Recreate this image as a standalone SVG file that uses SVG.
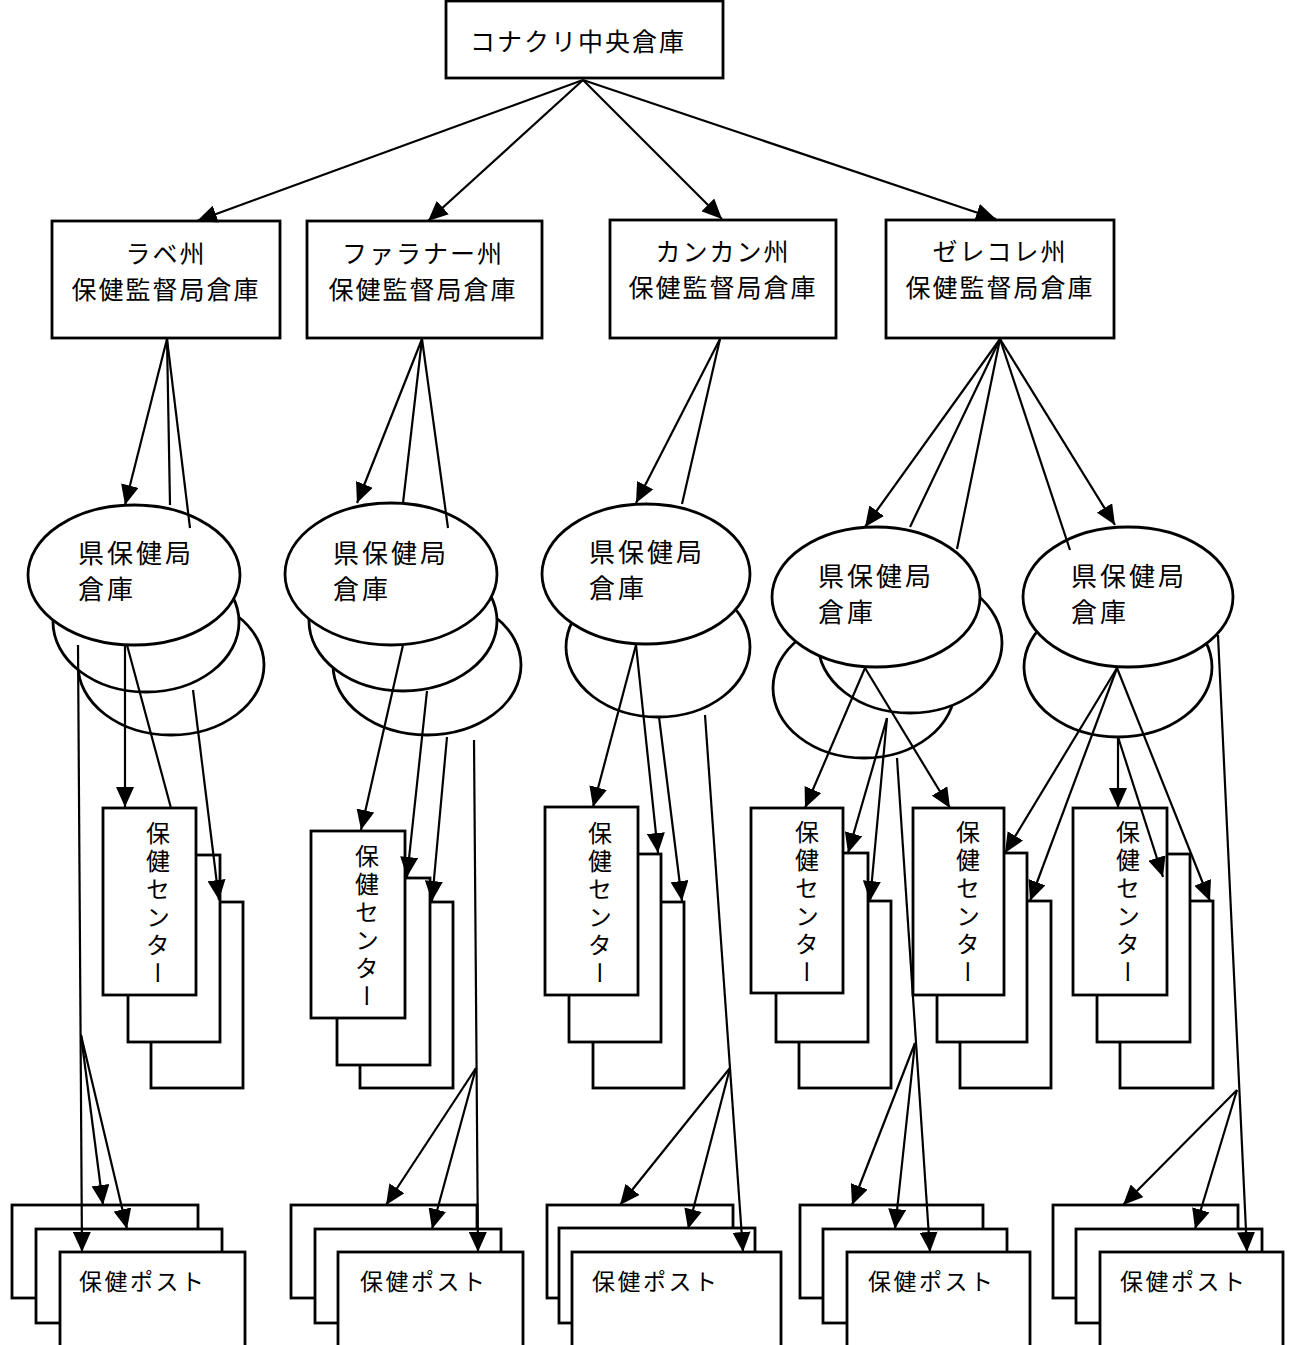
<svg xmlns="http://www.w3.org/2000/svg" width="1293" height="1345" viewBox="0 0 1293 1345">
<style>
.b{fill:#fff;stroke:#000;stroke-width:2.8}
.t{font-family:"Noto Sans CJK JP","Noto Sans CJK SC",sans-serif;fill:#000}
.t26{font-size:25px;letter-spacing:2px}
.te{font-size:26px;letter-spacing:3px}
.tv{font-size:24px;letter-spacing:4px;writing-mode:vertical-rl}
.tp{font-size:23px;letter-spacing:2.5px}
.c line{stroke:#000;stroke-width:2.2}
.a{marker-end:url(#ah)}
</style>
<defs>
<marker id="ah" viewBox="0 0 20 18" markerWidth="20" markerHeight="18" refX="20" refY="9" markerUnits="userSpaceOnUse" orient="auto">
<path d="M0,0 L20,9 L0,18 Z" fill="#000"/>
</marker>
</defs>
<rect width="1293" height="1345" fill="#fff"/>

<g id="central">
<rect class="b" x="446" y="1" width="277" height="77"/>
<text class="t t26" x="578" y="40" text-anchor="middle" dominant-baseline="central">コナクリ中央倉庫</text>
</g>

<g id="labe-region">
<rect class="b" x="52" y="221" width="228" height="117"/>
<text class="t t26" x="166" y="252" text-anchor="middle" dominant-baseline="central">ラベ州</text>
<text class="t t26" x="166" y="288" text-anchor="middle" dominant-baseline="central">保健監督局倉庫</text>
</g>
<g id="faranah-region">
<rect class="b" x="307" y="221" width="235" height="117"/>
<text class="t t26" x="423" y="252" text-anchor="middle" dominant-baseline="central">ファラナー州</text>
<text class="t t26" x="423" y="288" text-anchor="middle" dominant-baseline="central">保健監督局倉庫</text>
</g>
<g id="kankan-region">
<rect class="b" x="610" y="220" width="226" height="118"/>
<text class="t t26" x="723" y="250" text-anchor="middle" dominant-baseline="central">カンカン州</text>
<text class="t t26" x="723" y="286" text-anchor="middle" dominant-baseline="central">保健監督局倉庫</text>
</g>
<g id="nzerekore-region">
<rect class="b" x="886" y="220" width="228" height="118"/>
<text class="t t26" x="1000" y="250" text-anchor="middle" dominant-baseline="central">ゼレコレ州</text>
<text class="t t26" x="1000" y="286" text-anchor="middle" dominant-baseline="central">保健監督局倉庫</text>
</g>

<g id="labe-prefecture">
<ellipse class="b" cx="171" cy="665" rx="93" ry="70"/>
<ellipse class="b" cx="146" cy="622" rx="93" ry="70"/>
<ellipse class="b" cx="134" cy="575" rx="106" ry="70"/>
<text class="t te" x="78" y="551" dominant-baseline="central">県保健局</text>
<text class="t te" x="78" y="587" dominant-baseline="central">倉庫</text>
</g>
<g id="faranah-prefecture">
<ellipse class="b" cx="427" cy="665" rx="94" ry="70"/>
<ellipse class="b" cx="403" cy="621" rx="94" ry="70"/>
<ellipse class="b" cx="391" cy="574" rx="106" ry="71"/>
<text class="t te" x="333" y="551" dominant-baseline="central">県保健局</text>
<text class="t te" x="333" y="587" dominant-baseline="central">倉庫</text>
</g>
<g id="kankan-prefecture">
<ellipse class="b" cx="658" cy="647" rx="92" ry="70"/>
<ellipse class="b" cx="646" cy="574" rx="104" ry="70"/>
<text class="t te" x="589" y="550" dominant-baseline="central">県保健局</text>
<text class="t te" x="589" y="586" dominant-baseline="central">倉庫</text>
</g>
<g id="nzerekore-prefecture-a">
<ellipse class="b" cx="864" cy="688" rx="91" ry="70"/>
<ellipse class="b" cx="910" cy="643" rx="92" ry="70"/>
<ellipse class="b" cx="876" cy="597" rx="104" ry="70"/>
<text class="t te" x="818" y="574" dominant-baseline="central">県保健局</text>
<text class="t te" x="818" y="610" dominant-baseline="central">倉庫</text>
</g>
<g id="nzerekore-prefecture-b">
<ellipse class="b" cx="1118" cy="667" rx="94" ry="70"/>
<ellipse class="b" cx="1128" cy="597" rx="105" ry="70"/>
<text class="t te" x="1071" y="574" dominant-baseline="central">県保健局</text>
<text class="t te" x="1071" y="610" dominant-baseline="central">倉庫</text>
</g>

<g id="labe-centers">
<rect class="b" x="151" y="902" width="92" height="186"/>
<rect class="b" x="128" y="855" width="92" height="187"/>
<rect class="b" x="103" y="808" width="93" height="187"/>
<text class="t tv" x="158" y="821">保健センター</text>
</g>
<g id="faranah-centers">
<rect class="b" x="360" y="902" width="93" height="186"/>
<rect class="b" x="337" y="878" width="93" height="187"/>
<rect class="b" x="311" y="831" width="94" height="187"/>
<text class="t tv" x="367" y="844">保健センター</text>
</g>
<g id="kankan-centers">
<rect class="b" x="593" y="902" width="91" height="186"/>
<rect class="b" x="569" y="854" width="92" height="188"/>
<rect class="b" x="545" y="807" width="93" height="188"/>
<text class="t tv" x="600" y="821">保健センター</text>
</g>
<g id="nzerekore-centers-a">
<rect class="b" x="799" y="901" width="92" height="187"/>
<rect class="b" x="776" y="853" width="92" height="189"/>
<rect class="b" x="751" y="808" width="92" height="185"/>
<text class="t tv" x="807" y="820">保健センター</text>
</g>
<g id="nzerekore-centers-b">
<rect class="b" x="960" y="901" width="91" height="187"/>
<rect class="b" x="937" y="853" width="90" height="189"/>
<rect class="b" x="913" y="808" width="91" height="187"/>
<text class="t tv" x="968" y="820">保健センター</text>
</g>
<g id="nzerekore-centers-c">
<rect class="b" x="1120" y="901" width="93" height="187"/>
<rect class="b" x="1097" y="854" width="93" height="188"/>
<rect class="b" x="1073" y="808" width="94" height="187"/>
<text class="t tv" x="1128" y="820">保健センター</text>
</g>

<g id="labe-posts">
<rect class="b" x="12" y="1205" width="186" height="93"/>
<rect class="b" x="36" y="1229" width="186" height="94"/>
<rect class="b" x="60" y="1252" width="185" height="110"/>
<text class="t tp" x="79" y="1280" dominant-baseline="central">保健ポスト</text>
</g>
<g id="faranah-posts">
<rect class="b" x="291" y="1205" width="186" height="93"/>
<rect class="b" x="315" y="1229" width="186" height="94"/>
<rect class="b" x="338" y="1252" width="185" height="110"/>
<text class="t tp" x="360" y="1280" dominant-baseline="central">保健ポスト</text>
</g>
<g id="kankan-posts">
<rect class="b" x="547" y="1205" width="186" height="93"/>
<rect class="b" x="559" y="1228" width="196" height="95"/>
<rect class="b" x="572" y="1252" width="209" height="110"/>
<text class="t tp" x="592" y="1280" dominant-baseline="central">保健ポスト</text>
</g>
<g id="nzerekore-posts-a">
<rect class="b" x="800" y="1205" width="183" height="93"/>
<rect class="b" x="823" y="1229" width="184" height="94"/>
<rect class="b" x="847" y="1252" width="183" height="110"/>
<text class="t tp" x="868" y="1280" dominant-baseline="central">保健ポスト</text>
</g>
<g id="nzerekore-posts-b">
<rect class="b" x="1053" y="1205" width="185" height="93"/>
<rect class="b" x="1076" y="1229" width="186" height="94"/>
<rect class="b" x="1100" y="1252" width="183" height="110"/>
<text class="t tp" x="1120" y="1280" dominant-baseline="central">保健ポスト</text>
</g>

<g id="connectors" class="c">
<line class="a" x1="583" y1="80" x2="197" y2="221"/>
<line class="a" x1="583" y1="80" x2="428" y2="221"/>
<line class="a" x1="583" y1="80" x2="722" y2="219"/>
<line class="a" x1="583" y1="80" x2="996" y2="219"/>

<line class="a" x1="167" y1="339" x2="125" y2="505"/>
<line x1="167" y1="339" x2="170" y2="505"/>
<line x1="167" y1="339" x2="190" y2="528"/>

<line class="a" x1="422" y1="339" x2="357" y2="503"/>
<line x1="422" y1="339" x2="403" y2="503"/>
<line x1="422" y1="339" x2="448" y2="528"/>

<line class="a" x1="720" y1="339" x2="636" y2="503"/>
<line x1="720" y1="339" x2="682" y2="504"/>

<line class="a" x1="1000" y1="339" x2="865" y2="527"/>
<line x1="1000" y1="339" x2="910" y2="527"/>
<line x1="1000" y1="339" x2="957" y2="549"/>
<line x1="1000" y1="339" x2="1070" y2="550"/>
<line class="a" x1="1000" y1="339" x2="1115" y2="525"/>

<line class="a" x1="125" y1="645" x2="125" y2="807"/>
<line x1="127" y1="645" x2="171" y2="808"/>
<line class="a" x1="193" y1="690" x2="219" y2="900"/>
<line class="a" x1="78" y1="645" x2="82" y2="1252"/>
<line class="a" x1="81" y1="1035" x2="103" y2="1205"/>
<line class="a" x1="81" y1="1035" x2="127" y2="1229"/>

<line class="a" x1="403" y1="645" x2="361" y2="830"/>
<line class="a" x1="427" y1="691" x2="407" y2="877"/>
<line class="a" x1="447" y1="737" x2="432" y2="901"/>
<line class="a" x1="474" y1="740" x2="478" y2="1252"/>
<line class="a" x1="476" y1="1068" x2="386" y2="1205"/>
<line class="a" x1="476" y1="1068" x2="432" y2="1229"/>

<line class="a" x1="636" y1="645" x2="593" y2="807"/>
<line class="a" x1="636" y1="645" x2="658" y2="853"/>
<line class="a" x1="659" y1="717" x2="682" y2="901"/>
<line class="a" x1="705" y1="715" x2="743" y2="1252"/>
<line class="a" x1="730" y1="1068" x2="620" y2="1205"/>
<line class="a" x1="730" y1="1068" x2="688" y2="1229"/>

<line class="a" x1="865" y1="668" x2="805" y2="808"/>
<line class="a" x1="887" y1="718" x2="848" y2="853"/>
<line class="a" x1="887" y1="718" x2="870" y2="901"/>
<line class="a" x1="865" y1="668" x2="950" y2="808"/>
<line class="a" x1="897" y1="758" x2="930" y2="1252"/>
<line class="a" x1="915" y1="1043" x2="852" y2="1205"/>
<line class="a" x1="915" y1="1043" x2="895" y2="1229"/>

<line class="a" x1="1117" y1="668" x2="1005" y2="853"/>
<line class="a" x1="1117" y1="668" x2="1030" y2="901"/>
<line class="a" x1="1118" y1="737" x2="1118" y2="808"/>
<line class="a" x1="1118" y1="737" x2="1163" y2="877"/>
<line class="a" x1="1117" y1="668" x2="1210" y2="901"/>
<line class="a" x1="1218" y1="635" x2="1247" y2="1252"/>
<line class="a" x1="1237" y1="1090" x2="1123" y2="1205"/>
<line class="a" x1="1237" y1="1090" x2="1195" y2="1229"/>
</g>
</svg>
